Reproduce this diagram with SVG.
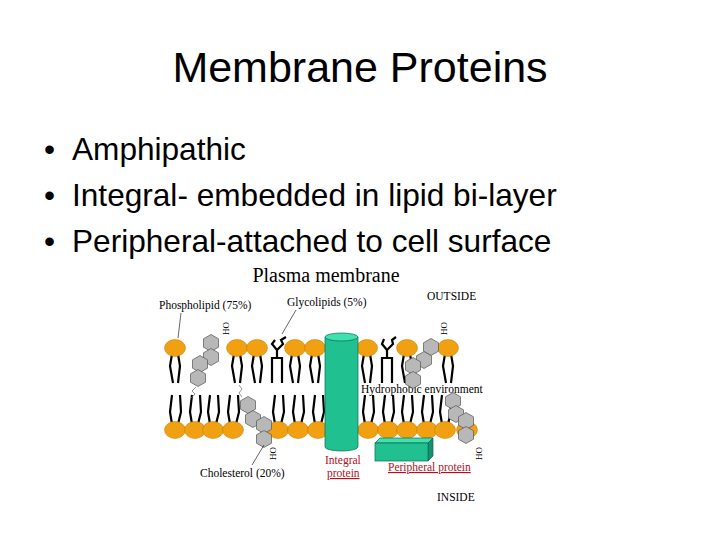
<svg xmlns="http://www.w3.org/2000/svg" width="720" height="540" viewBox="0 0 720 540">
<defs>
<style>
.t{font-family:"Liberation Sans",Arial,sans-serif;fill:#000}
.s{font-family:"Liberation Serif","Times New Roman",serif;fill:#000}
.h{fill:#f0a010;stroke:#c07800;stroke-width:0.5}
.tl{fill:none;stroke:#000;stroke-width:2.2}
.hx{fill:#b8b8b8;stroke:#555;stroke-width:0.7}
.r{fill:#b01020}
</style>
<polygon id="hex" points="0,-8.5 7.5,-4.2 7.5,4.2 0,8.5 -7.5,4.2 -7.5,-4.2" class="hx"/>
<g id="tt"><path class="tl" d="M-3,6 l-2,12 l3,17"/><path class="tl" d="M3,6 l2,12 l-2,17"/></g>
<g id="bt"><path class="tl" d="M-3,-6 l-2,-12 l2,-17"/><path class="tl" d="M3,-6 l3,-12 l-1,-17"/></g>
</defs>
<rect width="720" height="540" fill="#fff"/>
<text class="t" x="360" y="82" font-size="43" text-anchor="middle">Membrane Proteins</text>
<g class="t" font-size="31.6">
<text x="44" y="160">•</text><text x="72" y="160">Amphipathic</text>
<text x="44" y="206">•</text><text x="72" y="206">Integral- embedded in lipid bi-layer</text>
<text x="44" y="252">•</text><text x="72" y="252">Peripheral-attached to cell surface</text>
</g>
<text class="s" x="326" y="282" font-size="20" text-anchor="middle">Plasma membrane</text>
<g class="s" font-size="11.5">
<text x="427" y="300">OUTSIDE</text>
<text x="159" y="309">Phospholipid (75%)</text>
<text x="287" y="306">Glycolipids (5%)</text>
<text x="361" y="393">Hydrophobic environment</text>
<text x="200" y="477">Cholesterol (20%)</text>
<text x="437" y="501">INSIDE</text>
<text x="215" y="320" font-size="9" transform="rotate(90 218 325)">OH</text>
<text x="433" y="320" font-size="9" transform="rotate(90 436 325)">OH</text>
<text x="262" y="445" font-size="9" transform="rotate(90 265 450)">OH</text>
<text x="468" y="445" font-size="9" transform="rotate(90 471 450)">OH</text>
</g>
<g class="s r" font-size="11.5">
<text x="325" y="464">Integral</text>
<text x="327" y="477" text-decoration="underline">protein</text>
<text x="388" y="471" text-decoration="underline">Peripheral protein</text>
</g>
<g id="top-leaflet">
<use href="#tt" x="175" y="348"/><use href="#tt" x="237" y="348"/><use href="#tt" x="257" y="348"/>
<use href="#tt" x="295" y="348"/><use href="#tt" x="315" y="348"/><use href="#tt" x="367" y="348"/>
<use href="#tt" x="407" y="348"/><use href="#tt" x="448" y="348"/>
<g class="h"><ellipse cx="175" cy="348" rx="10.5" ry="8.5"/><ellipse cx="237" cy="348" rx="10.5" ry="8.5"/><ellipse cx="257" cy="348" rx="10.5" ry="8.5"/><ellipse cx="295" cy="348" rx="10.5" ry="8.5"/><ellipse cx="315" cy="348" rx="10.5" ry="8.5"/><ellipse cx="367" cy="348" rx="10.5" ry="8.5"/><ellipse cx="407" cy="348" rx="10.5" ry="8.5"/><ellipse cx="448" cy="348" rx="10.5" ry="8.5"/></g>
<path class="tl" d="M272,383 v-25 h10 v25 M277,358 v-8 l-5,-6 l3,-4 M277,350 l6,-6 l-2,-4 l5,-3" stroke-width="1.6"/>
<path class="tl" d="M382,383 v-25 h10 v25 M387,358 v-8 l-5,-6 l2,-5 M387,350 l6,-6 l-1,-4 l4,-3" stroke-width="1.6"/>
</g>
<g id="bottom-leaflet">
<use href="#bt" x="175" y="430"/><use href="#bt" x="195" y="430"/><use href="#bt" x="213" y="430"/><use href="#bt" x="233" y="430"/>
<use href="#bt" x="278" y="430"/><use href="#bt" x="298" y="430"/><use href="#bt" x="318" y="430"/>
<use href="#bt" x="368" y="430"/><use href="#bt" x="388" y="430"/><use href="#bt" x="407" y="430"/><use href="#bt" x="427" y="430"/><use href="#bt" x="445" y="430"/>
<g class="h"><ellipse cx="175" cy="430" rx="10.5" ry="8.5"/><ellipse cx="195" cy="430" rx="10.5" ry="8.5"/><ellipse cx="213" cy="430" rx="10.5" ry="8.5"/><ellipse cx="233" cy="430" rx="10.5" ry="8.5"/><ellipse cx="278" cy="430" rx="10.5" ry="8.5"/><ellipse cx="298" cy="430" rx="10.5" ry="8.5"/><ellipse cx="318" cy="430" rx="10.5" ry="8.5"/><ellipse cx="368" cy="430" rx="10.5" ry="8.5"/><ellipse cx="388" cy="430" rx="10.5" ry="8.5"/><ellipse cx="407" cy="430" rx="10.5" ry="8.5"/><ellipse cx="427" cy="430" rx="10.5" ry="8.5"/><ellipse cx="445" cy="430" rx="10.5" ry="8.5"/><ellipse cx="467" cy="430" rx="10.5" ry="8.5"/></g>
</g>
<g id="cholesterol">
<use href="#hex" x="211" y="343"/><use href="#hex" x="211" y="357"/><use href="#hex" x="200" y="364"/><use href="#hex" x="198" y="378"/>
<path d="M196,387 l-4,4 l3,3 l-4,4" fill="none" stroke="#666" stroke-width="0.7"/>
<use href="#hex" x="248" y="405"/><use href="#hex" x="253" y="419"/><use href="#hex" x="264" y="425"/><use href="#hex" x="264" y="439"/>
<path d="M242,397 l-3,-4 l3,-4 l-3,-4" fill="none" stroke="#666" stroke-width="0.7"/>
<use href="#hex" x="431" y="347"/><use href="#hex" x="424" y="360"/><use href="#hex" x="413" y="366"/><use href="#hex" x="413" y="380"/>
<use href="#hex" x="453" y="401"/><use href="#hex" x="456" y="414"/><use href="#hex" x="466" y="421"/><use href="#hex" x="466" y="435"/>
</g>
<g id="integral-protein">
<path d="M325,337 V447 A16.5,4 0 0 0 358,447 V337 Z" fill="#20c090" stroke="#0a6a50" stroke-width="0.7"/>
<ellipse cx="341.5" cy="337" rx="16.5" ry="4" fill="#40e0b0" stroke="#0a6a50" stroke-width="0.7"/>
</g>
<g id="peripheral-protein">
<polygon points="375,443 428,443 433,438 380,438" fill="#40e0b0" stroke="#0a6a50" stroke-width="0.7"/>
<polygon points="428,443 433,438 433,456 428,461" fill="#159070" stroke="#0a6a50" stroke-width="0.7"/>
<rect x="375" y="443" width="53" height="18" fill="#20c090" stroke="#0a6a50" stroke-width="0.7"/>
</g>
<g id="connectors" fill="none" stroke="#000" stroke-width="0.6">
<path d="M181,313 l-3,25"/><path d="M296,310 l-14,24"/><path d="M252,465 l12,-20"/>
</g>
</svg>
